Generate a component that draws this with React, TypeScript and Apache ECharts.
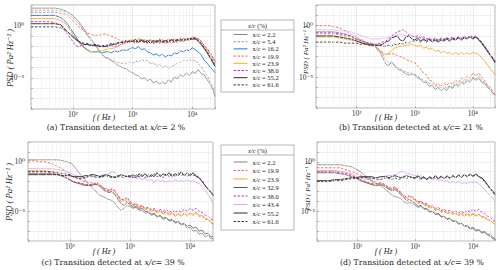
import React, { useEffect, useRef } from 'react';
import * as echarts from 'echarts';

// ---------- data (PSD given in dB, i.e. 10*log10(PSD)) ----------
const freqHz = [20, 25, 32, 40, 50, 63, 79,
  100, 112, 126, 141, 158, 178, 200, 224, 251, 282,
  316, 355, 398, 447, 501, 562, 631, 708, 794, 891,
  1000, 1122, 1259, 1413, 1585, 1778, 1995, 2239, 2512, 2818,
  3162, 3548, 3981, 4467, 5012, 5623, 6310, 7079, 7943, 8913,
  10000, 11220, 12589, 14125, 15849, 17783, 19953, 22387, 24000];

const xTickValues = [100, 1000, 10000];
const yTickValues = [1, 1e-5];
const xMinorGrid = [30, 40, 50, 60, 70, 80, 90, 200, 300, 400, 500, 600, 700, 800, 900, 2000, 3000, 4000, 5000, 6000, 7000, 8000, 9000, 20000];

const legendTop = ['x/c = 2.2', 'x/c = 5.4', 'x/c = 16.2', 'x/c = 19.9', 'x/c = 23.9', 'x/c = 38.0', 'x/c = 55.2', 'x/c = 61.6'];
const legendBottom = ['x/c = 2.2', 'x/c = 19.9', 'x/c = 23.9', 'x/c = 32.9', 'x/c = 38.0', 'x/c = 43.4', 'x/c = 55.2', 'x/c = 61.6'];
const captionLetters = ['a', 'b', 'c', 'd'];
const captionPercents = ['2', '21', '39', '39'];

// panel (a)
const psdA_02_2 = [17, 17, 17, 17, 17, 16, 14, 10, 7, 4, 0, -4, -9, -12, -16, -20, -25, -28, -31, -31, -34, -35, -38, -39, -41, -41, -44, -45, -47, -48, -51, -50, -53, -51, -55, -53, -56, -54, -56, -52, -54, -49, -51, -47, -49, -45, -48, -44, -46, -42, -46, -47, -52, -56, -62, -68];
const psdA_05_4 = [15, 15, 15, 15, 15, 14, 13, 8, 5, 2, -2, -6, -10, -14, -18, -21, -25, -28, -30, -32, -33, -34, -35, -36, -36, -36, -35, -36, -34, -35, -32, -34, -33, -37, -35, -39, -37, -40, -38, -41, -39, -38, -36, -35, -33, -34, -32, -34, -33, -37, -39, -44, -48, -54, -59, -63];
const psdA_16_2 = [10, 10, 10, 10, 10, 8, 3, -6, -10, -15, -18, -21, -23, -25, -25, -25, -25, -26, -25, -25, -26, -24, -25, -24, -23, -24, -22, -21, -22, -20, -23, -22, -25, -26, -28, -27, -29, -27, -30, -28, -29, -26, -27, -24, -25, -23, -24, -21, -23, -25, -28, -33, -36, -40, -43, -45];
const psdA_19_9 = [13, 13, 13, 13, 13, 12, 11, 5, 2, -1, -3, -5, -7, -8, -9, -9, -9, -8, -8, -9, -10, -11, -13, -14, -15, -15, -16, -15, -17, -14, -16, -15, -17, -14, -16, -15, -17, -15, -16, -14, -17, -15, -16, -14, -15, -13, -14, -12, -13, -14, -17, -21, -25, -29, -34, -37];
const psdA_23_9 = [7, 7, 7, 7, 7, 5, 1, -8, -12, -16, -19, -22, -24, -25, -25, -25, -24, -24, -23, -22, -22, -21, -20, -18, -17, -16, -15, -13, -15, -12, -14, -13, -15, -13, -16, -14, -15, -13, -15, -13, -14, -12, -15, -13, -14, -12, -13, -11, -12, -12, -15, -19, -23, -27, -32, -35];
const psdA_38_0 = [4, 4, 4, 4, 3, 1, -7, -15, -19, -20, -19, -18, -18, -19, -19, -19, -20, -19, -20, -20, -19, -20, -19, -18, -17, -16, -16, -14, -16, -13, -15, -14, -16, -13, -15, -14, -16, -14, -15, -13, -15, -13, -14, -12, -14, -12, -13, -11, -11, -13, -15, -19, -22, -26, -31, -34];
const psdA_55_2 = [2, 2, 2, 2, 2, 1, -5, -10, -13, -15, -17, -18, -18, -19, -19, -19, -20, -20, -20, -19, -18, -18, -17, -16, -16, -15, -15, -15, -13, -16, -14, -16, -14, -17, -14, -16, -14, -16, -14, -16, -13, -15, -13, -15, -12, -14, -12, -13, -12, -15, -18, -22, -26, -31, -36, -39];
const psdA_61_6 = [-1, -1, -1, -1, -1, -2, -5, -11, -13, -15, -16, -17, -17, -18, -18, -18, -19, -19, -19, -18, -17, -17, -16, -16, -15, -14, -14, -14, -16, -15, -13, -15, -16, -14, -17, -15, -13, -15, -17, -15, -14, -16, -14, -13, -15, -13, -14, -12, -13, -14, -17, -21, -25, -30, -35, -38];

// panel (b)
const psdB_02_2 = [-6, -6, -6, -6, -7, -8, -10, -13, -14, -15, -16, -17, -17, -18, -23, -26, -31, -37, -39, -35, -39, -42, -43, -45, -47, -48, -47, -48, -51, -52, -55, -55, -59, -58, -62, -60, -63, -61, -63, -59, -61, -57, -59, -55, -57, -53, -55, -51, -53, -51, -55, -56, -60, -62, -66, -67];
const psdB_05_4 = [-8, -8, -8, -8, -9, -10, -11, -14, -15, -16, -17, -18, -18, -19, -21, -24, -28, -33, -36, -37, -38, -40, -42, -44, -45, -46, -46, -47, -49, -51, -53, -54, -56, -57, -59, -58, -61, -59, -61, -58, -60, -56, -57, -54, -55, -52, -53, -50, -52, -49, -53, -55, -59, -63, -66, -68];
const psdB_violet = [-4, -4, -4, -4, -5, -5, -6, -8, -9, -10, -11, -12, -13, -13, -13, -13, -12, -12, -11, -11, -10, -9, -9, -9, -10, -9, -10, -11, -12, -10, -12, -13, -12, -14, -12, -14, -13, -14, -12, -13, -12, -14, -12, -13, -11, -12, -11, -12, -11, -14, -17, -21, -25, -29, -32, -34];
const psdB_19_9 = [0, 0, 0, -1, -2, -5, -8, -11, -13, -14, -16, -18, -19, -20, -21, -24, -26, -28, -28, -27, -28, -29, -30, -31, -33, -34, -35, -36, -39, -42, -46, -48, -53, -54, -58, -56, -59, -56, -58, -55, -57, -53, -55, -51, -53, -49, -51, -46, -49, -46, -50, -53, -58, -60, -65, -67];
const psdB_23_9 = [-11, -11, -11, -11, -12, -13, -14, -15, -16, -17, -18, -18, -19, -19, -22, -25, -27, -28, -27, -24, -22, -21, -20, -20, -19, -19, -18, -19, -20, -19, -22, -21, -23, -22, -25, -24, -26, -25, -27, -26, -28, -26, -28, -26, -28, -26, -28, -26, -27, -28, -31, -34, -38, -42, -45, -48];
const psdB_38_0 = [-7, -7, -7, -7, -8, -9, -10, -13, -14, -15, -16, -17, -18, -18, -18, -17, -16, -15, -13, -10, -8, -6, -5, -4, -6, -9, -10, -11, -10, -12, -11, -13, -12, -14, -12, -14, -12, -13, -12, -13, -11, -13, -11, -12, -10, -12, -10, -11, -10, -13, -16, -20, -24, -28, -32, -35];
const psdB_55_2 = [-10, -10, -10, -10, -11, -12, -13, -15, -16, -17, -18, -18, -19, -19, -19, -19, -18, -16, -15, -12, -11, -10, -14, -15, -11, -10, -13, -14, -12, -15, -13, -15, -13, -16, -14, -16, -14, -15, -13, -15, -13, -14, -12, -14, -12, -13, -11, -13, -11, -14, -17, -21, -25, -29, -33, -36];
const psdB_61_6 = [-16, -16, -16, -16, -16, -17, -17, -17, -18, -18, -18, -19, -19, -19, -19, -19, -20, -20, -19, -20, -18, -19, -17, -18, -16, -17, -15, -15, -14, -16, -14, -16, -14, -15, -13, -15, -13, -14, -12, -14, -12, -13, -11, -13, -11, -12, -10, -12, -11, -13, -16, -20, -24, -28, -32, -35];

// panel (c)
const psdC_02_2 = [2, 2, 2, 2, 2, 2, 1, -1, -3, -7, -11, -14, -18, -22, -25, -28, -31, -34, -35, -37, -38, -39, -42, -46, -49, -47, -44, -45, -47, -46, -49, -49, -52, -51, -54, -53, -56, -55, -58, -57, -60, -59, -62, -61, -64, -63, -67, -66, -70, -69, -73, -72, -76, -74, -78, -77];
const psdC_19_9 = [1, 1, 0, 0, -2, -5, -8, -13, -15, -16, -17, -19, -20, -21, -21, -22, -23, -24, -26, -27, -28, -30, -33, -36, -37, -39, -40, -42, -44, -43, -46, -45, -48, -47, -50, -48, -51, -49, -52, -50, -53, -51, -54, -52, -54, -52, -55, -52, -54, -52, -55, -55, -58, -58, -62, -63];
const psdC_23_9 = [-9, -9, -9, -9, -10, -12, -15, -19, -20, -21, -22, -22, -23, -24, -24, -23, -22, -24, -27, -29, -30, -28, -30, -35, -40, -39, -38, -41, -44, -43, -47, -45, -48, -47, -50, -49, -52, -50, -53, -51, -54, -52, -55, -53, -55, -52, -54, -52, -53, -51, -54, -54, -57, -58, -61, -62];
const psdC_32_9 = [-12, -12, -12, -12, -12, -13, -15, -18, -20, -21, -22, -23, -24, -24, -24, -23, -23, -25, -28, -30, -31, -30, -33, -38, -42, -44, -41, -43, -46, -45, -48, -47, -50, -50, -53, -52, -55, -54, -57, -56, -59, -58, -61, -60, -63, -62, -65, -64, -67, -66, -70, -69, -73, -72, -76, -75];
const psdC_38_0 = [-10, -10, -10, -10, -11, -13, -15, -18, -20, -21, -21, -22, -23, -23, -23, -22, -21, -23, -26, -28, -29, -27, -29, -34, -38, -38, -36, -40, -43, -42, -45, -44, -47, -46, -48, -47, -50, -48, -50, -48, -51, -49, -51, -49, -51, -48, -50, -47, -49, -47, -50, -51, -54, -55, -58, -59];
const psdC_43_4 = [-7, -7, -7, -7, -7, -8, -9, -11, -13, -14, -15, -16, -16, -15, -15, -15, -14, -14, -13, -13, -12, -10, -11, -14, -13, -14, -15, -16, -15, -17, -16, -18, -17, -19, -18, -20, -18, -20, -19, -21, -19, -20, -18, -20, -19, -20, -18, -20, -19, -21, -22, -25, -29, -33, -38, -42];
const psdC_55_2 = [-13, -13, -13, -13, -13, -13, -14, -14, -15, -15, -15, -15, -14, -14, -13, -13, -14, -15, -14, -13, -14, -15, -16, -15, -13, -14, -15, -15, -13, -16, -12, -15, -12, -16, -13, -15, -11, -15, -12, -14, -11, -15, -12, -14, -10, -14, -11, -14, -11, -15, -16, -20, -24, -28, -31, -34];
const psdC_61_6 = [-10, -10, -10, -10, -10, -11, -12, -13, -15, -16, -17, -17, -16, -15, -14, -15, -16, -16, -15, -14, -15, -16, -15, -14, -15, -16, -14, -14, -16, -13, -15, -13, -16, -13, -15, -12, -15, -13, -16, -12, -15, -12, -15, -11, -14, -12, -15, -12, -14, -13, -17, -19, -24, -27, -31, -33];

// panel (d)
const psdD_02_2 = [-3, -3, -3, -3, -3, -4, -5, -8, -10, -12, -15, -17, -20, -21, -23, -24, -26, -29, -31, -34, -35, -36, -37, -40, -42, -41, -42, -44, -46, -45, -48, -48, -51, -50, -53, -53, -56, -55, -58, -57, -60, -59, -62, -62, -65, -64, -67, -66, -69, -68, -71, -70, -73, -73, -77, -77];
const psdD_19_9 = [-6, -6, -6, -6, -6, -8, -10, -12, -13, -15, -16, -18, -19, -20, -22, -22, -23, -25, -27, -28, -27, -28, -31, -34, -36, -35, -37, -39, -42, -41, -44, -44, -47, -46, -49, -48, -51, -50, -52, -51, -53, -52, -54, -52, -54, -52, -54, -52, -54, -53, -55, -56, -58, -59, -62, -63];
const psdD_23_9 = [-9, -9, -9, -9, -10, -11, -13, -17, -18, -20, -21, -22, -23, -23, -23, -22, -23, -25, -27, -28, -26, -29, -32, -35, -37, -35, -36, -39, -41, -40, -43, -43, -46, -45, -48, -48, -50, -49, -52, -51, -53, -52, -54, -53, -55, -53, -55, -53, -55, -53, -56, -56, -59, -59, -62, -63];
const psdD_32_9 = [-11, -11, -11, -11, -12, -13, -15, -17, -19, -20, -21, -22, -23, -24, -24, -23, -24, -26, -28, -29, -28, -30, -33, -36, -39, -38, -40, -42, -45, -44, -47, -47, -50, -50, -53, -52, -55, -55, -58, -57, -60, -60, -63, -62, -65, -65, -68, -67, -70, -69, -72, -71, -74, -75, -78, -78];
const psdD_38_0 = [-10, -10, -10, -10, -11, -12, -14, -16, -18, -19, -20, -21, -22, -22, -22, -21, -22, -24, -26, -27, -25, -28, -31, -34, -36, -34, -35, -38, -40, -40, -42, -42, -45, -44, -47, -46, -49, -48, -50, -49, -51, -50, -52, -50, -52, -49, -51, -48, -50, -48, -51, -52, -55, -56, -59, -60];
const psdD_43_4 = [-9, -9, -9, -9, -10, -11, -12, -15, -16, -17, -18, -18, -17, -16, -16, -15, -15, -14, -14, -14, -13, -12, -10, -10, -12, -12, -13, -14, -15, -14, -16, -17, -16, -18, -17, -19, -18, -20, -19, -21, -20, -21, -20, -22, -21, -22, -20, -21, -20, -22, -25, -28, -31, -34, -37, -40];
const psdD_55_2 = [-19, -19, -19, -18, -18, -17, -16, -16, -15, -15, -15, -15, -15, -16, -16, -15, -15, -15, -16, -15, -14, -15, -16, -15, -14, -15, -16, -16, -14, -17, -15, -18, -15, -17, -14, -17, -15, -17, -14, -17, -14, -16, -13, -16, -13, -15, -12, -15, -12, -15, -16, -19, -23, -27, -30, -33];
const psdD_61_6 = [-20, -20, -20, -19, -19, -18, -17, -17, -16, -16, -16, -16, -17, -17, -18, -18, -17, -16, -17, -18, -16, -18, -17, -16, -17, -15, -16, -17, -15, -18, -16, -18, -16, -17, -15, -17, -14, -17, -15, -16, -14, -16, -14, -15, -13, -15, -13, -14, -13, -15, -17, -20, -24, -28, -31, -34];

const panelSeries: [string, number[]][][] = [
  [['x/c = 2.2', psdA_02_2], ['x/c = 5.4', psdA_05_4], ['x/c = 16.2', psdA_16_2], ['x/c = 19.9', psdA_19_9], ['x/c = 23.9', psdA_23_9], ['x/c = 38.0', psdA_38_0], ['x/c = 55.2', psdA_55_2], ['x/c = 61.6', psdA_61_6]],
  [['violet', psdB_violet], ['x/c = 2.2', psdB_02_2], ['x/c = 5.4', psdB_05_4], ['x/c = 19.9', psdB_19_9], ['x/c = 23.9', psdB_23_9], ['x/c = 38.0', psdB_38_0], ['x/c = 55.2', psdB_55_2], ['x/c = 61.6', psdB_61_6]],
  [['x/c = 2.2', psdC_02_2], ['x/c = 19.9', psdC_19_9], ['x/c = 23.9', psdC_23_9], ['x/c = 32.9', psdC_32_9], ['x/c = 38.0', psdC_38_0], ['x/c = 43.4', psdC_43_4], ['x/c = 55.2', psdC_55_2], ['x/c = 61.6', psdC_61_6]],
  [['x/c = 2.2', psdD_02_2], ['x/c = 19.9', psdD_19_9], ['x/c = 23.9', psdD_23_9], ['x/c = 32.9', psdD_32_9], ['x/c = 38.0', psdD_38_0], ['x/c = 43.4', psdD_43_4], ['x/c = 55.2', psdD_55_2], ['x/c = 61.6', psdD_61_6]],
];

// ---------- styles & layout ----------
const SERIF = "'Liberation Serif', 'DejaVu Serif', serif";
const WIDE_SERIF = "'DejaVu Serif', 'Liberation Serif', serif";
const DASH = [2.5, 1.5];
const STYLE: Record<string, { color: string; width: number; dash?: number[] }> = {
  'x/c = 2.2': { color: '#858585', width: 0.8 },
  'x/c = 5.4': { color: '#9c9c9c', width: 0.8, dash: DASH },
  'x/c = 16.2': { color: '#1f78d0', width: 0.9 },
  'x/c = 19.9': { color: '#ee6a43', width: 0.9, dash: DASH },
  'x/c = 23.9': { color: '#f2ae1c', width: 0.9 },
  'x/c = 32.9': { color: '#5c5c5c', width: 0.8 },
  'x/c = 38.0': { color: '#d61fd6', width: 0.9, dash: DASH },
  'x/c = 43.4': { color: '#d8a8f2', width: 0.9 },
  'x/c = 55.2': { color: '#2a2a2a', width: 0.9 },
  'x/c = 61.6': { color: '#3a3a3a', width: 0.9, dash: DASH },
  violet: { color: '#e4bbf0', width: 0.9 },
};

const LAYOUT = [
  { left: 31, top: 5, width: 184, height: 104, yMargin: 7, yName: [10, 58], yNameSize: 8.5, xName: [104, 117], caption: [116, 127] },
  { left: 316, top: 5, width: 179, height: 103, yMargin: 3, yName: [306, 50], yNameSize: 7, xName: [386, 117], caption: [411, 127] },
  { left: 28, top: 142, width: 185, height: 99, yMargin: 3, yName: [9, 192], yNameSize: 8.5, xName: [104, 251], caption: [113, 262] },
  { left: 317, top: 142, width: 178, height: 99, yMargin: 2, yName: [308, 186.5], yNameSize: 7, xName: [386, 251], caption: [412, 262] },
];

const SUP: Record<string, string> = { '0': '⁰', '1': '¹', '2': '²', '3': '³', '4': '⁴', '5': '⁵', '6': '⁶', '7': '⁷', '8': '⁸', '9': '⁹', '-': '⁻' };
function powLabel(v: number, ticks: number[]): string {
  const e = Math.log10(v);
  if (!ticks.some((t) => Math.abs(Math.log10(t) - e) < 1e-4)) return '';
  const n = Math.round(e);
  return '10' + String(n).split('').map((c) => SUP[c]).join('');
}

function buildOption() {
  const grid = LAYOUT.map((l) => ({
    left: l.left, top: l.top, width: l.width, height: l.height,
    show: true, borderColor: '#8c8c8c', borderWidth: 0.7, backgroundColor: '#ffffff',
  }));
  const xAxis = LAYOUT.map((_, i) => ({
    type: 'log', logBase: 10, gridIndex: i, min: 20, max: 24000,
    axisLine: { show: false },
    axisTick: { show: true, inside: true, length: 2, lineStyle: { color: '#8c8c8c', width: 0.6 } },
    axisLabel: { formatter: (v: number) => powLabel(v, xTickValues), fontSize: 7.5, fontFamily: SERIF, color: '#333', margin: 1, showMinLabel: true, showMaxLabel: true },
    splitLine: { show: true, lineStyle: { color: '#dedede', width: 0.6 } },
  }));
  const yAxis = LAYOUT.map((l, i) => ({
    type: 'log', logBase: 10, gridIndex: i, min: 1.01e-8, max: 1e2,
    axisLine: { show: false },
    axisTick: { show: true, inside: true, length: 2, lineStyle: { color: '#8c8c8c', width: 0.6 } },
    axisLabel: { formatter: (v: number) => powLabel(v, yTickValues), fontSize: 7.5, fontFamily: SERIF, color: '#333', margin: l.yMargin },
    splitLine: { show: true, lineStyle: { color: '#e6e6e6', width: 0.6 } },
  }));

  const series: any[] = [];
  LAYOUT.forEach((_, i) => {
    series.push({
      type: 'line', xAxisIndex: i, yAxisIndex: i, data: [], silent: true, z: 1,
      markLine: {
        silent: true, symbol: ['none', 'none'], label: { show: false }, animation: false,
        lineStyle: { color: '#efefef', width: 0.6, type: 'solid' },
        data: xMinorGrid.map((v) => ({ xAxis: v })),
      },
    });
    panelSeries[i].forEach(([name, arr]) => {
      const s = STYLE[name];
      series.push({
        type: 'line', name, xAxisIndex: i, yAxisIndex: i, z: 3, silent: true,
        showSymbol: false, symbol: 'none', clip: true,
        data: freqHz.map((f, k) => [f, Math.pow(10, arr[k] / 10)]),
        lineStyle: { color: s.color, width: s.width, type: s.dash ? s.dash : 'solid' },
        itemStyle: { color: s.color },
      });
    });
  });

  const legendCommon = {
    orient: 'vertical', left: 233, itemWidth: 14, itemHeight: 6, padding: 0, selectedMode: false,
    itemStyle: { opacity: 0 },
    lineStyle: { width: 1 },
    textStyle: { fontSize: 6.5, fontFamily: SERIF, color: '#222', lineHeight: 6 },
  };
  const legend = [
    { ...legendCommon, data: legendTop, top: 31, itemGap: 0.2 },
    { ...legendCommon, data: legendBottom, top: 158.5, itemGap: 1.5 },
  ];

  const txt = (x: number, y: number, text: string, size: number, font: string, extra: any = {}) => ({
    type: 'text', x, y, rotation: extra.rotation || 0,
    style: {
      text, fontSize: size, fontFamily: font, fill: '#222', fontStyle: extra.italic ? 'italic' : 'normal',
      align: 'center', verticalAlign: 'middle', textAlign: 'center', textVerticalAlign: 'middle',
      rich: { i: { fontStyle: 'italic', fontSize: size, fontFamily: font, fill: '#222' }, n: { fontSize: size, fontFamily: font, fill: '#222' } },
    },
  });

  const graphic: any[] = [];
  const boxes = [[221, 20, 73, 72, 30, 25], [221, 145, 73, 85, 155, 150]];
  boxes.forEach(([x, y, w, h, sep, head]) => {
    graphic.push({ type: 'rect', z: 0, shape: { x, y, width: w, height: h }, style: { fill: '#fff', stroke: '#9a9a9a', lineWidth: 0.7 } });
    graphic.push({ type: 'line', z: 1, shape: { x1: x, y1: sep, x2: x + w, y2: sep }, style: { stroke: '#9a9a9a', lineWidth: 0.7 } });
    graphic.push(txt(x + w / 2, head, '{i|x/c} {n|(%)}', 6.5, SERIF));
  });
  LAYOUT.forEach((l, i) => {
    graphic.push(txt(l.yName[0], l.yName[1], 'PSD ( Pa² Hz⁻¹ )', l.yNameSize, SERIF, { rotation: Math.PI / 2, italic: true }));
    graphic.push(txt(l.xName[0], l.xName[1], 'f ( Hz )', 8, SERIF, { italic: true }));
    graphic.push(txt(l.caption[0], l.caption[1], `{n|(${captionLetters[i]}) Transition detected at }{i|x/c}{n|= ${captionPercents[i]} %}`, 7.8, WIDE_SERIF));
  });

  return { animation: false, backgroundColor: '#ffffff', grid, xAxis, yAxis, series, legend, graphic };
}

export default function App() {
  const ref = useRef<HTMLDivElement>(null);
  useEffect(() => {
    document.body.style.margin = '0';
    const chart = echarts.init(ref.current as HTMLDivElement, undefined, { renderer: 'svg' });
    chart.setOption(buildOption() as any);
    return () => chart.dispose();
  }, []);
  return <div ref={ref} style={{ width: 500, height: 270, background: '#fff' }} />;
}
